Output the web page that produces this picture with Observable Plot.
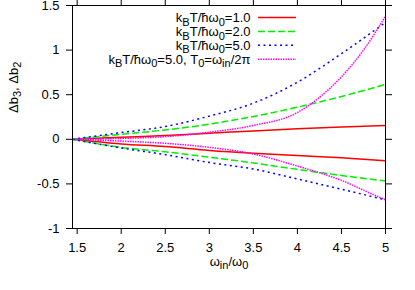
<!DOCTYPE html>
<html><head><meta charset="utf-8">
<script src="https://cdn.jsdelivr.net/npm/d3@7"></script>
<script src="https://cdn.jsdelivr.net/npm/@observablehq/plot@0.6"></script>
<style>
body{margin:0;background:#fff;}
svg{font-family:"Liberation Sans",Arial,sans-serif;}
</style>
</head><body><div id="chart"></div>
<script>
// ---- data ----
const xGrid = [1.447, 2, 2.5, 3, 3.5, 4, 4.5, 5];
const xGridFine = [1.447, 2, 2.5, 3, 3.5, 4, 4.25, 4.5, 4.75, 5];

const t1Upper = [0, 0.022, 0.042, 0.068, 0.094, 0.117, 0.138, 0.155];
const t1Lower = [0, -0.052, -0.082, -0.125, -0.157, -0.182, -0.208, -0.24];
const t2Upper = [0, 0.056, 0.105, 0.17, 0.255, 0.36, 0.48, 0.615];
const t2Lower = [0, -0.09, -0.14, -0.2, -0.265, -0.337, -0.405, -0.468];
const t5Upper = [0, 0.075, 0.143, 0.26, 0.405, 0.64, 0.96, 1.31];
const t5Lower = [0, -0.097, -0.172, -0.26, -0.333, -0.445, -0.56, -0.678];
const t5wUpper = [0, 0.01, 0.03, 0.08, 0.155, 0.30, 0.47, 0.70, 1.0, 1.38];
const t5wLower = [0, -0.02, -0.045, -0.09, -0.165, -0.30, -0.375, -0.46, -0.57, -0.68];

const seriesLabels = [
  "k_{B}T/ħω_{0}=1.0",
  "k_{B}T/ħω_{0}=2.0",
  "k_{B}T/ħω_{0}=5.0",
  "k_{B}T/ħω_{0}=5.0, T_{0}=ω_{in}/2π"
];
const xTicks = [1.5, 2, 2.5, 3, 3.5, 4, 4.5, 5];
const yTicks = [-1, -0.5, 0, 0.5, 1, 1.5];
const xLabel = "ω_{in}/ω_{0}";
const yLabel = "Δb_{3}, Δb_{2}";

// ---- styles ----
const styles = [
  {stroke: "#ff0000", dash: null},
  {stroke: "#00ee00", dash: "7,3"},
  {stroke: "#0000ff", dash: "2,3.5"},
  {stroke: "#ff00ff", dash: "1.5,1"}
];

const seriesData = [
  {xs: xGrid, branches: [t1Upper, t1Lower]},
  {xs: xGrid, branches: [t2Upper, t2Lower]},
  {xs: xGrid, branches: [t5Upper, t5Lower]},
  {xs: xGridFine, branches: [t5wUpper, t5wLower]}
];

const lineMarks = seriesData.map((s, i) => {
  const rows = [];
  s.branches.forEach((ys, b) => ys.forEach((y, k) => rows.push({x: s.xs[k], y, branch: b})));
  return Plot.line(rows, {
    x: "x", y: "y", z: "branch", curve: "monotone-x",
    stroke: styles[i].stroke, strokeWidth: 1.5,
    strokeDasharray: styles[i].dash, strokeLinecap: "butt"
  });
});

const legendTop = 12.5, legendStep = 13.9;
const legendText = seriesLabels.map((lab, i) =>
  Plot.text([lab], {frameAnchor: "top-right", dx: -135, dy: legendTop + legendStep * i,
    textAnchor: "end", lineAnchor: "middle", fontSize: 13, fill: "black"})
);

const W = 415, H = 290, mL = 72, mR = 30, mT = 5, mB = 62;

const chart = Plot.plot({
  width: W, height: H,
  marginLeft: mL, marginRight: mR, marginTop: mT, marginBottom: mB,
  style: {fontFamily: "Liberation Sans, Arial, sans-serif", fontSize: "13px", background: "white", color: "black"},
  x: {domain: [1.447, 5]},
  y: {domain: [-1, 1.5]},
  marks: [
    ...lineMarks,
    Plot.axisX({ticks: xTicks, anchor: "bottom", tickSize: 6, tickPadding: 8, tickFormat: d => String(d), label: null, fontSize: 13}),
    Plot.axisX({ticks: xTicks, anchor: "top", tickSize: 6, tickFormat: () => "", label: null}),
    Plot.axisY({ticks: yTicks, anchor: "left", tickSize: 6, tickPadding: 7, tickFormat: d => String(d), label: null, fontSize: 13}),
    Plot.axisY({ticks: yTicks, anchor: "right", tickSize: 6, tickFormat: () => "", label: null}),
    Plot.frame({stroke: "black", strokeWidth: 1}),
    Plot.text([yLabel], {frameAnchor: "left", dx: -59, dy: -4, rotate: -90, fontSize: 13, fill: "black"}),
    Plot.text([xLabel], {frameAnchor: "bottom", dy: 37, fontSize: 13, fill: "black"}),
    ...legendText
  ]
});

// subscripts
function applySub(svg) {
  const sh = 3.5;
  d3.select(svg).selectAll("text").each(function() {
    const t = this.textContent;
    if (!t.includes("_{")) return;
    const sel = d3.select(this);
    sel.text(null);
    const re = /_\{([^}]*)\}/g;
    let last = 0, m, shifted = false;
    while ((m = re.exec(t)) !== null) {
      if (m.index > last) {
        sel.append("tspan").attr("dy", shifted ? -sh : null).text(t.slice(last, m.index));
        shifted = false;
      }
      sel.append("tspan").attr("dy", shifted ? null : sh).attr("font-size", "85%").text(m[1]);
      shifted = true;
      last = re.lastIndex;
    }
    if (last < t.length) {
      sel.append("tspan").attr("dy", shifted ? -sh : null).text(t.slice(last));
    }
  });
}
applySub(chart);

// legend samples
const g = d3.select(chart).append("g");
styles.forEach((s, i) => {
  const y = mT + legendTop + legendStep * i;
  g.append("line")
    .attr("x1", 258).attr("x2", 296).attr("y1", y).attr("y2", y)
    .attr("stroke", s.stroke).attr("stroke-width", 1.5)
    .attr("stroke-dasharray", s.dash);
});

document.getElementById("chart").appendChild(chart);
</script>
</body></html>
